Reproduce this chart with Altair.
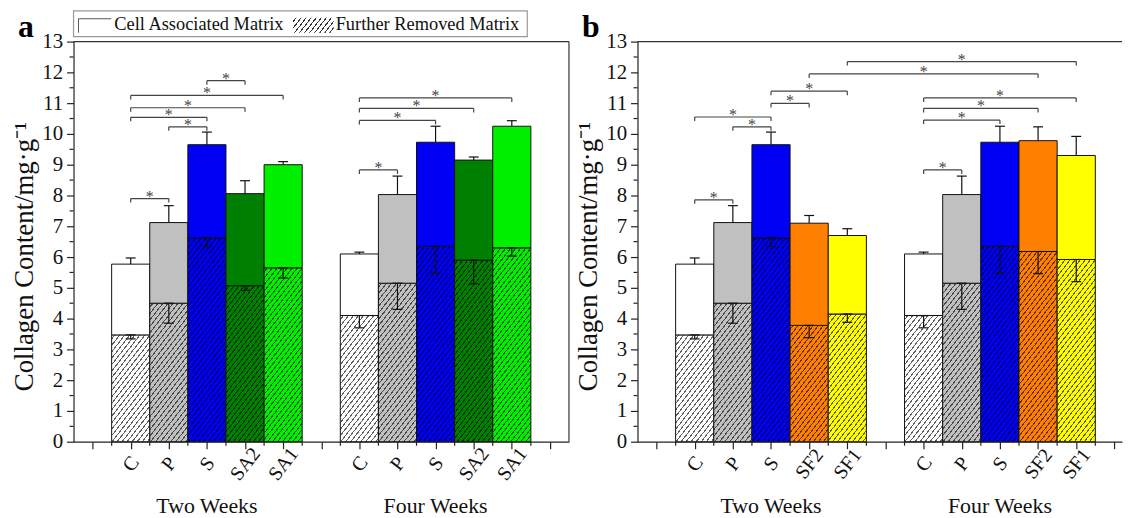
import math
import altair as alt

FONT = "Liberation Serif"

# ---------------- data ----------------
WEEKS = ["Two Weeks", "Four Weeks"]
LEGEND_LABELS = ["Cell Associated Matrix", "Further Removed Matrix"]
Y_TICK_LABELS = list(range(0, 14))

GROUPS_A = ["C", "P", "S", "SA2", "SA1"]
COLORS_A = ["#ffffff", "#c0c0c0", "#0000f5", "#008000", "#00f000"]
A_TOTAL_2W = [5.77, 7.12, 9.65, 8.06, 9.00]
A_TOTAL_2W_ERR = [0.20, 0.55, 0.41, 0.42, 0.10]
A_FURTHER_2W = [3.47, 4.50, 6.62, 5.07, 5.65]
A_FURTHER_2W_ERR = [0.13, 0.65, 0.28, 0.15, 0.33]
A_TOTAL_4W = [6.10, 8.03, 9.73, 9.15, 10.25]
A_TOTAL_4W_ERR = [0.06, 0.60, 0.52, 0.10, 0.18]
A_FURTHER_4W = [4.10, 5.15, 6.35, 5.90, 6.30]
A_FURTHER_4W_ERR = [0.40, 0.85, 0.87, 0.77, 0.27]
# significance brackets (bar slot from, bar slot to, height)
A_BRACKET_FROM = [3, 1, 1, 1, 2, 1, 7, 7, 7, 7]
A_BRACKET_TO = [4, 5, 4, 3, 3, 2, 11, 10, 9, 8]
A_BRACKET_Y = [11.73, 11.25, 10.85, 10.54, 10.23, 7.90, 11.17, 10.83, 10.44, 8.83]

GROUPS_B = ["C", "P", "S", "SF2", "SF1"]
COLORS_B = ["#ffffff", "#c0c0c0", "#0000f5", "#ff8000", "#ffff00"]
B_TOTAL_2W = [5.77, 7.12, 9.65, 7.10, 6.70]
B_TOTAL_2W_ERR = [0.20, 0.55, 0.41, 0.25, 0.22]
B_FURTHER_2W = [3.47, 4.50, 6.62, 3.78, 4.15]
B_FURTHER_2W_ERR = [0.13, 0.65, 0.28, 0.40, 0.27]
B_TOTAL_4W = [6.10, 8.03, 9.73, 9.78, 9.30]
B_TOTAL_4W_ERR = [0.06, 0.60, 0.52, 0.45, 0.62]
B_FURTHER_4W = [4.10, 5.15, 6.35, 6.18, 5.92]
B_FURTHER_4W_ERR = [0.40, 0.85, 0.87, 0.72, 0.72]
B_BRACKET_FROM = [5, 4, 3, 3, 1, 2, 7, 7, 7, 1, 7]
B_BRACKET_TO = [11, 10, 5, 4, 3, 3, 11, 10, 9, 2, 8]
B_BRACKET_Y = [12.35, 11.95, 11.39, 10.99, 10.55, 10.23, 11.17, 10.83, 10.45, 7.86, 8.83]

# ---------------- layout constants ----------------
Y_MAX = 13
PLOT_H = 403
UNIT_PX = 38.4
CAP = 0.13
BRACKET_DROP = 0.13
AXIS_COLOR = "#222"


def darker(hex_color, f=0.62):
    h = hex_color.lstrip("#")
    r, g, b = (int(h[i:i + 2], 16) for i in (0, 2, 4))
    return "#%02x%02x%02x" % (int(r * (1 - f)), int(g * (1 - f)), int(b * (1 - f)))


def stripes(base, w, h, line, theta=52.0, period=4.0, lw=1.0):
    s = math.sin(math.radians(theta))
    c = math.cos(math.radians(theta))
    S = w * s + h * c
    D = (w * s) ** 2 + (h * c) ** 2
    k = S / D
    stops = [{"offset": 0, "color": base}]
    t = period * 0.5
    while t < S:
        a = round(t / S, 5)
        b = round(min((t + lw) / S, 1.0), 5)
        stops += [
            {"offset": a, "color": base},
            {"offset": a, "color": line},
            {"offset": b, "color": line},
            {"offset": b, "color": base},
        ]
        t += period
    stops.append({"offset": 1, "color": base})
    return {"gradient": "linear", "x1": 0, "y1": 0,
            "x2": round(k * w * s, 5), "y2": round(k * h * c, 5), "stops": stops}


def panel(groups, colors, series, br_from, br_to, br_y, x_max, width, letter, legend, right_frame):
    xscale = alt.Scale(domain=[-0.5, x_max], nice=False, zero=False)
    yscale = alt.Scale(domain=[0, Y_MAX], nice=False, zero=True)

    rects, errs, caps = [], [], []
    for w, (tot, tote, fur, fure) in enumerate(series):
        for i, g in enumerate(groups):
            slot = w * 6 + i + 1
            h_px = fur[i] / Y_MAX * PLOT_H
            rects.append({"slot": slot, "lo": 0, "hi": fur[i],
                          "paint": stripes(colors[i], UNIT_PX, h_px, darker(colors[i]))})
            rects.append({"slot": slot, "lo": fur[i], "hi": tot[i], "paint": colors[i]})
            errs.append({"slot": slot, "lo": fur[i] - fure[i], "hi": fur[i]})
            errs.append({"slot": slot, "lo": tot[i], "hi": tot[i] + tote[i]})
            caps.append({"slot": slot, "y": fur[i] - fure[i]})
            caps.append({"slot": slot, "y": fur[i]})
            caps.append({"slot": slot, "y": tot[i] + tote[i]})

    names = [""] * 13
    for w in range(2):
        for i, g in enumerate(groups):
            names[w * 6 + i + 1] = g
    arr = "[" + ",".join("'" + n + "'" for n in names) + "]"
    n_major_x = int(math.floor(x_max))

    x_axis = alt.Axis(
        values=list(range(0, n_major_x + 1)),
        labelExpr=f"{arr}[datum.value] || ''",
        tickSize=7, tickWidth=1.2,
        labelAngle=308, labelAlign="center", labelBaseline="middle", labelPadding=15,
        labelFont=FONT, labelFontSize=20, labelColor="#111", labelOverlap=False,
        domainColor=AXIS_COLOR, domainWidth=1.2, tickColor=AXIS_COLOR, grid=False, title=None,
    )
    y_axis = alt.Axis(
        values=Y_TICK_LABELS,
        labelExpr="'' + datum.value",
        tickSize=7, tickWidth=1.2,
        labelFont=FONT, labelFontSize=21, labelColor="#111", labelPadding=4,
        domainColor=AXIS_COLOR, domainWidth=1.2, tickColor=AXIS_COLOR, grid=False,
        title="Collagen Content/mg·g⁻¹", titleFont=FONT, titleFontSize=27,
        titleFontWeight="normal", titleColor="#111", titlePadding=3, titleY=216,
    )

    X = lambda f: alt.X(f, scale=xscale, axis=x_axis)
    Y = lambda f: alt.Y(f, scale=yscale, axis=y_axis)

    bars = alt.Chart(alt.Data(values=rects)).transform_calculate(
        x0="datum.slot - 0.5", x1="datum.slot + 0.5"
    ).mark_rect(stroke="#111", strokeWidth=1).encode(
        x=X("x0:Q"), x2="x1:Q", y=Y("lo:Q"), y2="hi:Q",
        fill=alt.Fill("paint:N", scale=None),
    )

    # minor ticks at the half positions
    y_minor = alt.Chart(alt.Data(values=[{"ym": v + 0.5} for v in Y_TICK_LABELS[:-1]])).mark_rule(
        color=AXIS_COLOR, strokeWidth=1.2).encode(
        x=alt.value(-4), x2=alt.value(0), y=Y("ym:Q"))
    x_minor = alt.Chart(alt.Data(values=[{"xm": v + 0.5} for v in range(0, n_major_x)])).mark_rule(
        color=AXIS_COLOR, strokeWidth=1.2).encode(
        x=X("xm:Q"), y=alt.value(PLOT_H), y2=alt.value(PLOT_H + 4))

    err = alt.Chart(alt.Data(values=errs)).mark_rule(color="#111", strokeWidth=1.2).encode(
        x=X("slot:Q"), y=Y("lo:Q"), y2="hi:Q")
    cap = alt.Chart(alt.Data(values=caps)).transform_calculate(
        c0=f"datum.slot - {CAP}", c1=f"datum.slot + {CAP}"
    ).mark_rule(color="#111", strokeWidth=1.2).encode(x=X("c0:Q"), x2="c1:Q", y=Y("y:Q"))

    br_rows = [{"l": l, "r": r, "y": y} for l, r, y in zip(br_from, br_to, br_y)]
    br_ends = [{"x": v, "y": y} for l, r, y in zip(br_from, br_to, br_y) for v in (l, r)]
    br_line = alt.Chart(alt.Data(values=br_rows)).mark_rule(color="#444", strokeWidth=1.2).encode(
        x=X("l:Q"), x2="r:Q", y=Y("y:Q"))
    br_tick = alt.Chart(alt.Data(values=br_ends)).transform_calculate(
        y2=f"datum.y - {BRACKET_DROP}"
    ).mark_rule(color="#444", strokeWidth=1.2).encode(x=X("x:Q"), y=Y("y:Q"), y2="y2:Q")
    star = alt.Chart(alt.Data(values=br_rows)).transform_calculate(
        m="(datum.l + datum.r) / 2"
    ).mark_text(text="*", font=FONT, fontSize=16, fill="#444", baseline="alphabetic", dy=3).encode(
        x=X("m:Q"), y=Y("y:Q"))

    weeks = alt.Chart(alt.Data(values=[{"pos": w * 6 + 3, "label": lab} for w, lab in enumerate(WEEKS)])
                      ).mark_text(font=FONT, fontSize=22, fill="#111", baseline="alphabetic").encode(
        x=X("pos:Q"), y=alt.value(PLOT_H + 72), text="label:N")

    frame_top = alt.Chart(alt.Data(values=[{"top": Y_MAX}])).mark_rule(color="#333", strokeWidth=1.2).encode(
        y=Y("top:Q"), x=alt.value(0), x2=alt.value(width))
    layers = [bars, y_minor, x_minor, err, cap, br_line, br_tick, star, weeks, frame_top]
    if right_frame:
        layers.append(alt.Chart(alt.Data(values=[{"right": x_max}])).mark_rule(color="#333", strokeWidth=1.2).encode(
            x=X("right:Q"), y=alt.value(0), y2=alt.value(PLOT_H)))

    lbl = alt.Chart(alt.Data(values=[{"t": letter}])).mark_text(
        font=FONT, fontSize=32, fontWeight="bold", fill="#000", align="left", baseline="alphabetic"
    ).encode(x=alt.value(-56), y=alt.value(-5), text="t:N")
    layers.append(lbl)

    if legend:
        box = alt.Chart(alt.Data(values=[{"k": 0}])).mark_rect(filled=False, stroke="#999", strokeWidth=1.2).encode(
            x=alt.value(0), x2=alt.value(457), y=alt.value(-31), y2=alt.value(-5))
        sw_top = alt.Chart(alt.Data(values=[{"k": 1}])).mark_rule(color="#555", strokeWidth=1).encode(
            x=alt.value(5), x2=alt.value(38), y=alt.value(-23))
        sw_left = alt.Chart(alt.Data(values=[{"k": 2}])).mark_rule(color="#555", strokeWidth=1).encode(
            x=alt.value(5), y=alt.value(-23), y2=alt.value(-9))
        sw_hatch = alt.Chart(alt.Data(values=[{"k": 3}])).mark_rect(
            fill=stripes("#ffffff", 41, 15, "#333333"), strokeWidth=0
        ).encode(x=alt.value(221), x2=alt.value(262), y=alt.value(-24), y2=alt.value(-9))
        leg_text = alt.Chart(alt.Data(values=[{"t": LEGEND_LABELS[0], "lx": 41}, {"t": LEGEND_LABELS[1], "lx": 264}])
                             ).mark_text(font=FONT, fontSize=18.5, fill="#111", align="left", baseline="alphabetic"
                                         ).encode(x=alt.X("lx:Q", scale=None), y=alt.value(-12), text="t:N")
        layers += [box, sw_top, sw_left, sw_hatch, leg_text]

    return alt.layer(*layers).properties(width=width, height=PLOT_H)


panel_a = panel(
    GROUPS_A, COLORS_A,
    [(A_TOTAL_2W, A_TOTAL_2W_ERR, A_FURTHER_2W, A_FURTHER_2W_ERR),
     (A_TOTAL_4W, A_TOTAL_4W_ERR, A_FURTHER_4W, A_FURTHER_4W_ERR)],
    A_BRACKET_FROM, A_BRACKET_TO, A_BRACKET_Y, 12.5, 499, "a", True, True)

panel_b = panel(
    GROUPS_B, COLORS_B,
    [(B_TOTAL_2W, B_TOTAL_2W_ERR, B_FURTHER_2W, B_FURTHER_2W_ERR),
     (B_TOTAL_4W, B_TOTAL_4W_ERR, B_FURTHER_4W, B_FURTHER_4W_ERR)],
    B_BRACKET_FROM, B_BRACKET_TO, B_BRACKET_Y, 12.2, 488, "b", False, False)

chart = alt.hconcat(panel_a, panel_b, spacing=69, bounds="flush").properties(
    padding={"left": 3, "top": 0, "right": 0, "bottom": 0}, background="white"
).configure_view(stroke=None).configure_axis(labelFont=FONT, titleFont=FONT)

chart.save("out.html", embed_options={"renderer": "svg", "actions": False})
